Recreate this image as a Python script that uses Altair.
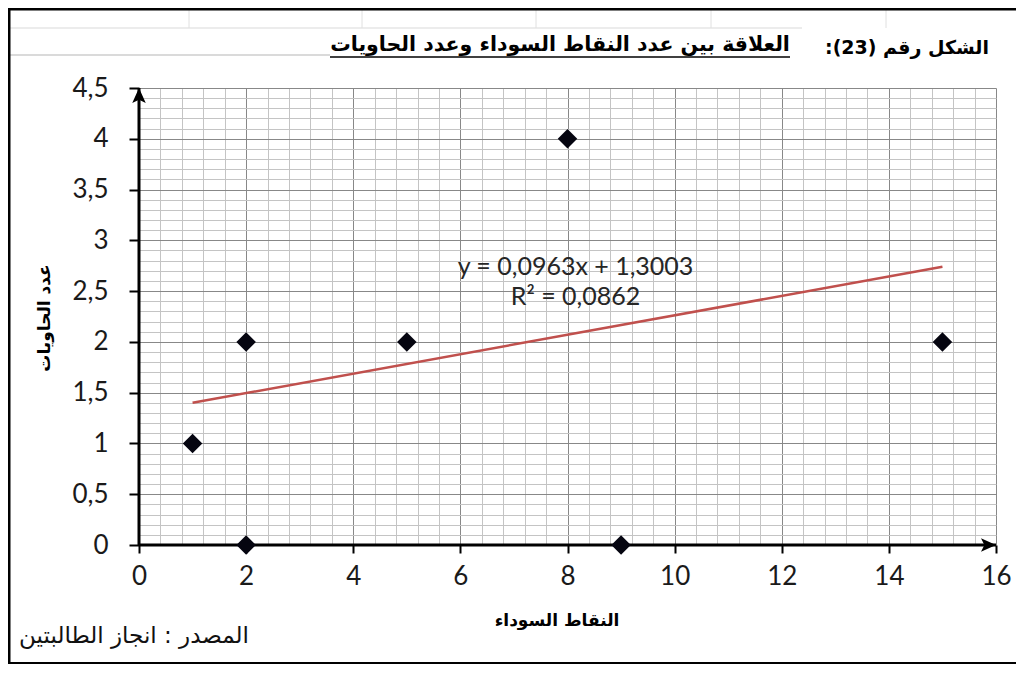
import altair as alt
import pandas as pd

# ---- data ----
black_dots = [1, 2, 2, 5, 8, 9, 15]          # النقاط السوداء
containers = [1, 2, 0, 2, 4, 0, 2]           # عدد الحاويات
trend_x = [1, 15]
trend_y = [1.40, 2.74]
eq_text = ["y = 0,0963x + 1,3003", "R² = 0,0862"]
eq_x = [8.15, 8.15]
eq_y = [2.74, 2.44]

x_major = [0, 2, 4, 6, 8, 10, 12, 14, 16]
y_major = [0, 0.5, 1, 1.5, 2, 2.5, 3, 3.5, 4, 4.5]
x_minor = [round(i * 0.4, 1) for i in range(1, 41) if i % 5 != 0]
y_minor = [round(i * 0.1, 1) for i in range(1, 46) if i % 5 != 0]

fig_label = "الشكل رقم (23):"
title_text = "العلاقة بين عدد النقاط السوداء وعدد الحاويات"
x_title = "النقاط السوداء"
y_title = "عدد الحاويات"
source_text = "المصدر : انجاز الطالبتين"

AR_FONT = "DejaVu Sans"
NUM_FONT = "Lato, sans-serif"
RLE, PDF = "\u202B", "\u202C"

pts = pd.DataFrame({"x": black_dots, "y": containers})
trend = pd.DataFrame({"x": trend_x, "y": trend_y})
eq = pd.DataFrame({"x": eq_x, "y": eq_y, "t": eq_text})
axes_df = pd.DataFrame({"x": [0, 0], "x2": [16, 0], "y": [0, 0], "y2": [0, 4.5]})

xs = alt.Scale(domain=[0, 16], nice=False, zero=False)
ys = alt.Scale(domain=[0, 4.5], nice=False, zero=False)

minor = alt.Chart(pts).mark_point(opacity=0).encode(
    x=alt.X("x:Q", scale=xs, axis=alt.Axis(values=x_minor, grid=True, gridColor="#c4c4c4",
                                           gridWidth=1, labels=False, ticks=False, domain=False,
                                           title=None, orient="bottom")),
    y=alt.Y("y:Q", scale=ys, axis=alt.Axis(values=y_minor, grid=True, gridColor="#c4c4c4",
                                           gridWidth=1, labels=False, ticks=False, domain=False,
                                           title=None, orient="left")),
)

lab = "replace(toString(datum.value), '.', ',')"
major = alt.Chart(pts).mark_point(opacity=0).encode(
    x=alt.X("x:Q", scale=xs, axis=alt.Axis(values=x_major, grid=True, gridColor="#888888",
                                           gridWidth=1, labels=True, labelExpr=lab,
                                           labelFont=NUM_FONT, labelFontSize=26, labelColor="#1a1a1a",
                                           labelPadding=10, ticks=True, tickSize=8, tickWidth=2,
                                           tickColor="black", domain=False, title=None,
                                           orient="bottom", labelFlush=False)),
    y=alt.Y("y:Q", scale=ys, axis=alt.Axis(values=y_major, grid=True, gridColor="#888888",
                                           gridWidth=1, labels=True, labelExpr=lab,
                                           labelFont=NUM_FONT, labelFontSize=26, labelColor="#1a1a1a",
                                           labelPadding=21, ticks=True, tickSize=10, tickWidth=2,
                                           tickColor="black", domain=False, title=None,
                                           orient="left", labelFlush=False)),
)

axis_lines = alt.Chart(axes_df).mark_rule(color="black", strokeWidth=3).encode(
    x=alt.X("x:Q", scale=xs, axis=None), x2="x2:Q",
    y=alt.Y("y:Q", scale=ys, axis=None), y2="y2:Q",
)

up_arrow = alt.Chart(pd.DataFrame({"x": [0], "y": [4.5]})).mark_point(
    shape="M0,-1L-0.9,1L0,0.55L0.9,1Z", filled=True, color="black", opacity=1, size=225, yOffset=7.5
).encode(x=alt.X("x:Q", scale=xs, axis=None), y=alt.Y("y:Q", scale=ys, axis=None))

right_arrow = alt.Chart(pd.DataFrame({"x": [16], "y": [0]})).mark_point(
    shape="M1,0L-1,-0.9L-0.55,0L-1,0.9Z", filled=True, color="black", opacity=1, size=225, xOffset=-7.5
).encode(x=alt.X("x:Q", scale=xs, axis=None), y=alt.Y("y:Q", scale=ys, axis=None))

trend_line = alt.Chart(trend).mark_line(color="#c0504d", strokeWidth=2.5).encode(
    x=alt.X("x:Q", scale=xs, axis=None), y=alt.Y("y:Q", scale=ys, axis=None)
)

points = alt.Chart(pts).mark_point(shape="diamond", filled=True, color="#050510", opacity=1, size=380).encode(
    x=alt.X("x:Q", scale=xs, axis=None), y=alt.Y("y:Q", scale=ys, axis=None)
)

eq_layer = alt.Chart(eq).mark_text(font=NUM_FONT, fontSize=25, color="#262626", baseline="middle").encode(
    x=alt.X("x:Q", scale=xs, axis=None), y=alt.Y("y:Q", scale=ys, axis=None), text="t:N"
)


def ptext(text, x, y, size, bold=False, angle=0, color="black"):
    return alt.Chart(alt.Data(values=[{"t": RLE + text + PDF}])).mark_text(
        font=AR_FONT, fontSize=size, fontWeight="bold" if bold else "normal", angle=angle,
        align="center", baseline="middle", color=color
    ).encode(x=alt.value(x), y=alt.value(y), text="t:N")


def hline(x1, x2, y, color, w):
    return alt.Chart(alt.Data(values=[{"a": 1}])).mark_rule(color=color, strokeWidth=w).encode(
        x=alt.value(x1), x2=alt.value(x2), y=alt.value(y))


def vline(x, y1, y2, color, w):
    return alt.Chart(alt.Data(values=[{"a": 1}])).mark_rule(color=color, strokeWidth=w).encode(
        x=alt.value(x), y=alt.value(y1), y2=alt.value(y2))


# plot origin is at page (139, 88)
decor = [
    hline(-131, 663, -60, "#d9d9d9", 1),
    hline(-131, 191, -33, "#b5b5b5", 1),
    vline(50, -80, -60, "#e0e0e0", 1),
    vline(223, -80, -60, "#e0e0e0", 1),
    vline(397, -80, -60, "#e0e0e0", 1),
    vline(572, -80, -60, "#e0e0e0", 1),
    vline(747, -80, -60, "#e0e0e0", 1),
    vline(-130, -80, 577, "black", 3),
    hline(-131, 877, -79, "black", 3),
    hline(-131, 877, 575, "black", 2),
    hline(191, 651, -31, "black", 1.5),
]
texts = [
    ptext(title_text, 421, -43, 20.5, bold=True),
    ptext(fig_label, 768, -40, 19, bold=True),
    ptext(y_title, -94, 230, 17, bold=True, angle=270),
    ptext(x_title, 418, 533, 17, bold=True),
    ptext(source_text, -5, 548, 23, color="#111111"),
]

chart = alt.layer(
    minor, major, *decor, axis_lines, trend_line, up_arrow, right_arrow, points, eq_layer, *texts
).resolve_axis(x="independent", y="independent").properties(
    width=857, height=457,
    autosize=alt.AutoSizeParams(type="none"),
    padding={"left": 131, "top": 80, "right": 20, "bottom": 119},
    background="white",
).configure_view(strokeWidth=0)

chart.save("out.html", embed_options={"renderer": "svg", "actions": False})
